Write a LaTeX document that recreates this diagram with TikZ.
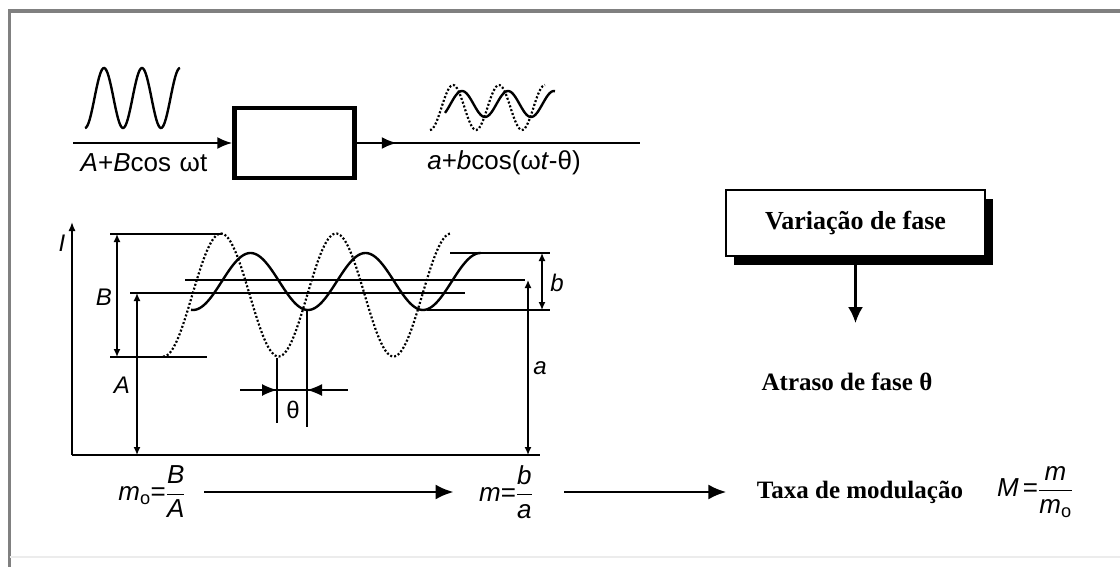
\documentclass[tikz,border=0pt]{standalone}
\usepackage{amsmath}
\usepackage{fontspec}
\setmainfont{Liberation Sans}
\newfontfamily\ptserif{Liberation Serif}
\usetikzlibrary{arrows.meta, positioning, calc, shadows}

\begin{document}
\begin{tikzpicture}[x=1pt, y=-1pt,
    thinline/.style={line width=1.4pt},
    dimarrow/.style={line width=1.4pt, {Latex[length=8pt,width=7pt]}-{Latex[length=8pt,width=7pt]}},
    bigarrow/.style={line width=2.2pt, -{Latex[length=15pt,width=12pt]}},
    wave/.style={line width=2.4pt},
    dotwave/.style={line width=2.2pt, dash pattern=on 2pt off 2pt},
    sanslabel/.style={font=\fontsize{24}{27}\selectfont},
    signal/.style={font=\fontsize{26}{29}\selectfont},
    ptlabel/.style={font=\ptserif\bfseries\fontsize{25}{29}\selectfont}]

    % Bounding box and frame
    \useasboundingbox (0,0) rectangle (1120,567);
    \draw[gray, line width=3.5pt] (1120,11) -- (9.5,11) -- (9.5,567);
    \draw[gray!15, line width=2pt] (9.5,557) -- (1120,557);

    % Block with input and output line
    \node[draw, line width=4.5pt, minimum width=120, minimum height=70] (sysbox) at (294.5,143) {};
    \coordinate (inp) at (73,143);
    \coordinate (outp) at (640,143);
    \draw[bigarrow] (inp) -- (sysbox.west);
    \draw[line width=2.2pt] (sysbox.east) -- (outp);
    \draw[bigarrow] (sysbox.east) -- ++(40,0);

    % Waveforms above the line
    \draw[wave] plot[domain=85:180, samples=90] (\x, {98 + 30*cos(360/38*(\x-85))});
    \draw[dotwave] plot[domain=430:545, samples=90] (\x, {107.5 + 22.5*cos(360/46*(\x-430))});
    \draw[wave] plot[domain=445:555, samples=90] (\x, {104 + 13*cos(360/46*(\x-485))});

    % Signal texts
    \node[signal] (intxt) at (144,163) {\textit{A}+\textit{B}cos\,\,ωt};
    \node[signal] (outtxt) at (504,163) {\textit{a}+\textit{b}cos(ω\textit{t}-θ)};

    % Axes
    \coordinate (orig) at (72,455);
    \coordinate (itop) at (72,222);
    \coordinate (xend) at (540,455);
    \draw[thinline, -{Latex[length=9pt,width=7pt]}] (orig) -- (itop);
    \draw[thinline] (orig) -- (xend);
    \node[sanslabel] (ilbl) at (62,243) {\textit{I}};

    % Level lines
    \draw[thinline] (110,234) -- (222,234);
    \draw[thinline] (110,357) -- (207,357);
    \draw[thinline] (130,293) -- (465,293);
    \draw[thinline] (185,280) -- (525,280);
    \draw[thinline] (450,253) -- (550,253);
    \draw[thinline] (427,310) -- (550,310);

    % Dimension arrows
    \draw[dimarrow] (117,234) -- (117,357);
    \draw[dimarrow] (137,293) -- (137,455);
    \draw[dimarrow] (528,280) -- (528,455);
    \draw[dimarrow] (542,253) -- (542,310);
    \node[sanslabel] (blbl) at (104,297) {\textit{B}};
    \node[sanslabel] (albl) at (122,385) {\textit{A}};
    \node[sanslabel] (smalla) at (540,368) {\textit{a}};
    \node[sanslabel] (smallb) at (557,283) {\textit{b}};

    % Input (dotted) and output (solid) signals
    \draw[dotwave] plot[domain=163:451, samples=160] (\x, {295 + 61.5*cos(360/115*(\x-163.5))});
    \draw[wave] plot[domain=191:481, samples=160] (\x, {281.5 + 28.5*cos(360/115*(\x-193))});

    % Phase shift
    \draw[thinline] (277,358) -- (277,423);
    \draw[thinline] (307,311) -- (307,427);
    \draw[thinline] (240,390) -- (348,390);
    \draw[thinline, -{Latex[length=15pt,width=12pt]}] (250,390) -- (277,390);
    \draw[thinline, -{Latex[length=15pt,width=12pt]}] (335,390) -- (307,390);
    \node[sanslabel] (thlbl) at (293,410) {θ};

    % Phase variation box
    \node[draw, line width=1.5pt, fill=white, minimum width=259, minimum height=66,
          drop shadow={shadow xshift=8pt, shadow yshift=-9pt, opacity=1, fill=black},
          ptlabel, font=\ptserif\bfseries\fontsize{26}{30}\selectfont] (varbox) at (855.5,223) {Variação de fase};
    \coordinate (phasetip) at (855.5,323);
    \draw[bigarrow, -{Latex[length=16pt,width=15pt]}] (varbox.south) -- (phasetip);
    \node[ptlabel] (atraso) at (847,382) {Atraso de fase θ};

    % Modulation rates
    \node[signal] (mzero) at (152,492) {$\textit{m}_{\text{o}}\text{=}\genfrac{}{}{1pt}{0}{\textit{B}}{\textit{A}}$};
    \node[signal] (mnode) at (506,492) {$\textit{m}\text{=}\genfrac{}{}{1pt}{0}{\textit{b}}{\textit{a}}$};
    \node[ptlabel] (taxa) at (860,492) {Taxa de modulação};
    \node[signal] (bigm) at (1035,492) {$\textit{M}\,\text{=}\genfrac{}{}{1pt}{0}{\textit{m}}{\textit{m}_{\text{o}}}$};
    \draw[line width=2.8pt, -{Latex[length=18pt,width=15pt]}, shorten <=15pt, shorten >=22pt] (mzero) -- (mnode);
    \draw[line width=2.8pt, -{Latex[length=18pt,width=15pt]}, shorten <=28pt, shorten >=27pt] (mnode) -- (taxa);
\end{tikzpicture}
\end{document}
